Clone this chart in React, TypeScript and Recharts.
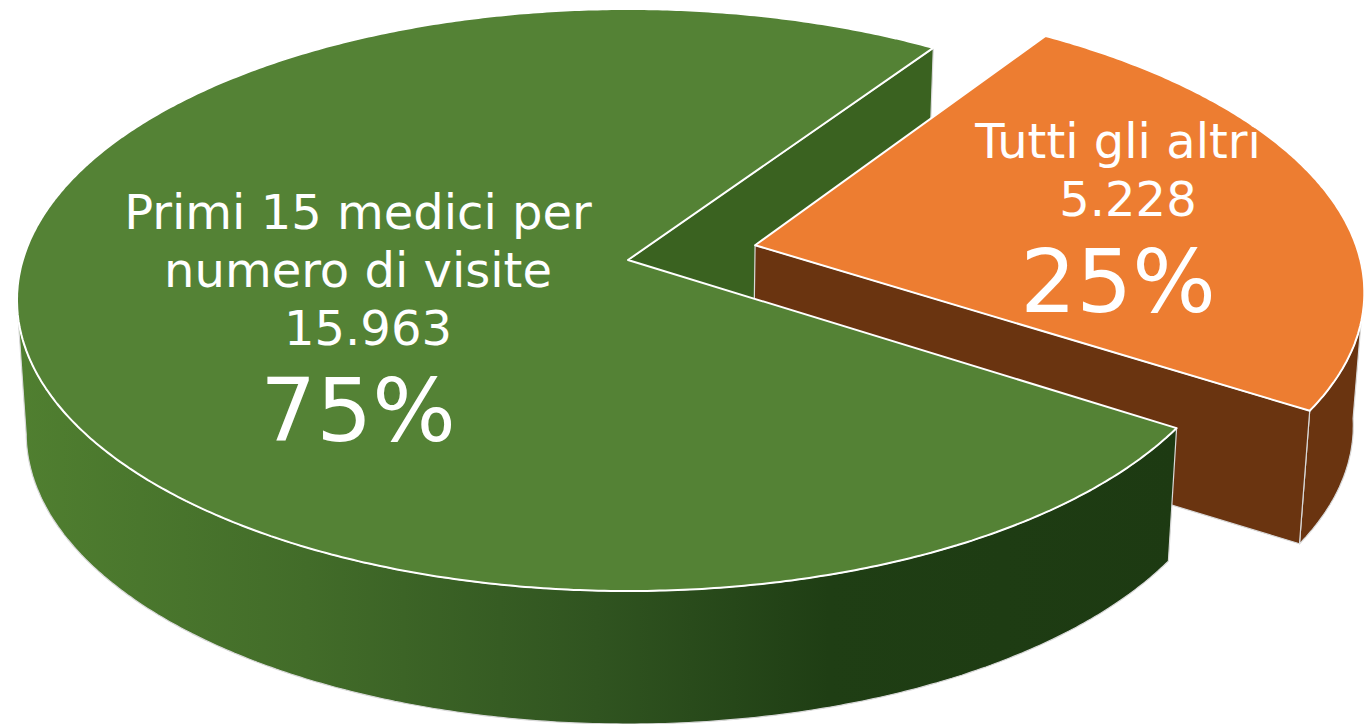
import { Pie, PieChart } from "recharts";

const categories = ["Primi 15 medici per numero di visite", "Tutti gli altri"];
const visits = [15963, 5228];
const visitLabels = ["15.963", "5.228"];
const nameLines = [["Primi 15 medici per", "numero di visite"], ["Tutti gli altri"]];
const topColors = ["#548235", "#ED7D31"];

const chartData = categories.map((name, i) => ({ name, value: visits[i], fill: topColors[i] }));

// perspective of the tilted disc
const CX = 628;
const CY = 300;
const RX = 611;
const RY = 291;
const TILT = -0.1375;
const DEPTH = 133;
const BOTTOM_SCALE = 0.985;
const EXPLODE = [0.2115, -0.0522];
const START_ANGLE = -33;

type Pt = [number, number];

const project = (u: number, v: number, bottom: boolean): Pt => {
  const w = 1 + TILT * v;
  const x = CX + (RX * u * Math.sqrt(1 - TILT * TILT)) / w;
  const y = CY + (RY * (v + TILT)) / w;
  if (!bottom) return [x, y];
  return [CX + (x - CX) * BOTTOM_SCALE, y + DEPTH];
};

const toPath = (pts: Pt[]) =>
  pts.map((p, i) => `${i ? "L" : "M"}${p[0].toFixed(1)} ${p[1].toFixed(1)}`).join(" ") + " Z";

// disc coordinates along the arc of one sector, v grows towards the viewer
const arc = (start: number, end: number): Pt[] => {
  const n = Math.ceil(Math.abs(end - start) * 2);
  const out: Pt[] = [];
  for (let i = 0; i <= n; i++) {
    const a = ((start + ((end - start) * i) / n) * Math.PI) / 180;
    out.push([Math.cos(a), -Math.sin(a)]);
  }
  return out;
};

const sliceGeometry = (props: any) => {
  const off = props.index === 1 ? EXPLODE : [0, 0];
  const rim = arc(props.startAngle, props.endAngle);
  const at = (p: Pt, bottom: boolean) => project(p[0] + off[0], p[1] + off[1], bottom);
  const apex = at([0, 0], false);
  const apexBottom = at([0, 0], true);
  const front = rim.filter((p) => p[1] >= -TILT);
  return {
    top: [apex, ...rim.map((p) => at(p, false))],
    band: [...front.map((p) => at(p, false)), ...[...front].reverse().map((p) => at(p, true))],
    last: [apex, at(rim[rim.length - 1], false), at(rim[rim.length - 1], true), apexBottom],
  };
};

const WHITE_EDGE = { stroke: "#fff", strokeWidth: 2, strokeLinejoin: "round" as const };
const THIN_EDGE = { stroke: "#d9d9d9", strokeWidth: 1.2, strokeLinejoin: "round" as const };

// back wall of the big slice, it sits behind the orange one
const BackShape = (props: any) => {
  if (props.index !== 0) return <g />;
  return <path d={toPath(sliceGeometry(props).last)} fill="#3A6220" {...THIN_EDGE} />;
};

const FrontShape = (props: any) => {
  if (props.index !== 1) return <g />;
  const g = sliceGeometry(props);
  return (
    <g>
      <path d={toPath(g.band)} fill="#6A3410" {...THIN_EDGE} />
      <path d={toPath(g.last)} fill="#6A3410" {...THIN_EDGE} />
      <path d={toPath(g.top)} fill={props.fill} {...WHITE_EDGE} />
    </g>
  );
};

const TopShape = (props: any) => {
  if (props.index !== 0) return <g />;
  const g = sliceGeometry(props);
  return (
    <g>
      <path d={toPath(g.band)} fill="url(#greenRim)" {...THIN_EDGE} />
      <path d={toPath(g.top)} fill={props.fill} {...WHITE_EDGE} />
    </g>
  );
};

const LABEL_X = [358, 1118];
const LABEL_Y = [229, 158];
const LINE_H = 58;

const renderLabel = (props: any) => {
  const i = props.index;
  const lines = [...nameLines[i], visitLabels[i]];
  const x = LABEL_X[i];
  const y = LABEL_Y[i];
  return (
    <g key={i} fontFamily="DejaVu Sans" textAnchor="middle">
      {lines.map((t, k) => (
        <text key={k} x={x + (k === lines.length - 1 ? 10 : 0)} y={y + k * LINE_H} fontSize={48} stroke="none" fill="#fff">
          {t}
        </text>
      ))}
      <text x={x} y={y + lines.length * LINE_H + 38} fontSize={88} stroke="none" fill="#fff">
        {Math.round(props.percent * 100)}%
      </text>
    </g>
  );
};

export default function App() {
  const pieProps = {
    data: chartData,
    dataKey: "value",
    nameKey: "name",
    cx: CX,
    cy: CY,
    outerRadius: RY,
    startAngle: START_ANGLE,
    endAngle: START_ANGLE - 360,
    stroke: "none",
    isAnimationActive: false,
    legendType: "none" as const,
  };
  return (
    <div style={{ position: "fixed", left: 0, top: 0, width: 1371, height: 724, overflow: "hidden", background: "#fff" }}>
      <PieChart width={1371} height={724} margin={{ top: 0, right: 0, bottom: 0, left: 0 }}>
        <defs>
          <linearGradient id="greenRim" x1="0" y1="0" x2="1" y2="0">
            <stop offset="0%" stopColor="#507F30" />
            <stop offset="25%" stopColor="#426C29" />
            <stop offset="50%" stopColor="#305420" />
            <stop offset="70%" stopColor="#1F3E14" />
            <stop offset="100%" stopColor="#1D3A12" />
          </linearGradient>
        </defs>
        <Pie {...pieProps} shape={BackShape} />
        <Pie {...pieProps} shape={FrontShape} />
        <Pie {...pieProps} shape={TopShape} label={renderLabel} labelLine={false} />
      </PieChart>
    </div>
  );
}
